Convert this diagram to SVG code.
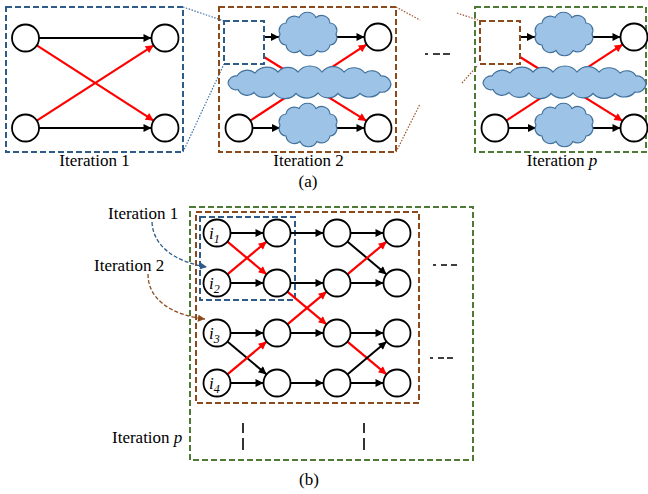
<svg xmlns="http://www.w3.org/2000/svg" width="648" height="494" viewBox="0 0 648 494">
<style>
text{font-family:"Liberation Serif","Times New Roman",serif;font-size:17px;fill:#000}
.it{font-style:italic}
.node{fill:#fff;stroke:#000;stroke-width:1.8}
.blk{stroke:#000;stroke-width:2;fill:none;marker-end:url(#ab)}
.red{stroke:#f00;stroke-width:2.2;fill:none;marker-end:url(#ar)}
.cloud{fill:#9dc3e6;stroke:#41719c;stroke-width:1.2}
.bbox{fill:none;stroke:#2e5b88;stroke-width:2;stroke-dasharray:6 3}
.rbox{fill:none;stroke:#8b4a1c;stroke-width:2;stroke-dasharray:6 3}
.gbox{fill:none;stroke:#4f7a36;stroke-width:2;stroke-dasharray:6 3}
.bdot{stroke:#3f72a8;stroke-width:1.2;stroke-dasharray:1.5 1.5;fill:none}
.rdot{stroke:#a0522d;stroke-width:1.2;stroke-dasharray:1.5 1.5;fill:none}
.dash{stroke:#000;stroke-width:1.6;fill:none}
</style>
<defs>
<marker id="ab" viewBox="0 0 10 10" refX="10" refY="5" markerWidth="9" markerHeight="8" markerUnits="userSpaceOnUse" orient="auto"><path d="M0,0 L10,5 L0,10 z" fill="#000"/></marker>
<marker id="ar" viewBox="0 0 10 10" refX="10" refY="5" markerWidth="9" markerHeight="8" markerUnits="userSpaceOnUse" orient="auto"><path d="M0,0 L10,5 L0,10 z" fill="#f00"/></marker>
<marker id="abl" viewBox="0 0 10 10" refX="10" refY="5" markerWidth="8" markerHeight="7" markerUnits="userSpaceOnUse" orient="auto"><path d="M0,0 L10,5 L0,10 z" fill="#2e5b88"/></marker>
<marker id="abr" viewBox="0 0 10 10" refX="10" refY="5" markerWidth="8" markerHeight="7" markerUnits="userSpaceOnUse" orient="auto"><path d="M0,0 L10,5 L0,10 z" fill="#8b4a1c"/></marker>
<path id="cloudS" class="cloud" d="M28,0 A7.5,7.5 0 0 1 22,11 A8.5,8.5 0 0 1 9,16.5 A9.5,9.5 0 0 1 -8,16.5 A8.5,8.5 0 0 1 -22,11 A7.5,7.5 0 0 1 -28,0 A7.5,7.5 0 0 1 -22,-11 A8.5,8.5 0 0 1 -9,-16.5 A9.5,9.5 0 0 1 8,-16.5 A8.5,8.5 0 0 1 22,-11 A7.5,7.5 0 0 1 28,0 Z"/>
<path id="cloudL" class="cloud" d="M81,1 A9,9 0 0 1 70,9 A14,14 0 0 1 50,10.5 A15,15 0 0 1 28,10.5 A13,13 0 0 1 8,10 A15,15 0 0 1 -14,10.5 A14,14 0 0 1 -36,10 A13,13 0 0 1 -56,9.5 A10,10 0 0 1 -72,6.5 A8,8 0 0 1 -82,0 A8,8 0 0 1 -73,-7 A12,12 0 0 1 -55,-10 A15,15 0 0 1 -32,-11 A13,13 0 0 1 -12,-11 A15,15 0 0 1 12,-11 A14,14 0 0 1 34,-11 A14,14 0 0 1 55,-10 A11,11 0 0 1 71,-7 A9,9 0 0 1 81,1 Z"/>
</defs>

<!-- ===== (a) ===== -->
<g id="zoom-lines">
<path class="bdot" d="M183,7 L224,21 M183,152 L224,64"/>
<path class="rdot" d="M396,7 L420,20 M457,13 L478,20 M396,152 L420,104 M462,83 L478,65"/>
</g>
<g id="a-ellipsis"><path class="dash" d="M425,54 h3 M433,54 h7 M443,54 h7"/></g>

<g id="iter1">
<rect class="bbox" x="6" y="7" width="177" height="145"/>
<g id="a1-connectors">
<line class="blk" x1="39" y1="38" x2="151.5" y2="38"/>
<line class="blk" x1="39" y1="128" x2="151.5" y2="128"/>
<line class="red" x1="36.8" y1="45.3" x2="153.7" y2="120.7"/>
<line class="red" x1="36.8" y1="120.7" x2="153.7" y2="45.3"/>
</g>
<g id="a1-n1"><circle class="node" cx="25.5" cy="38" r="13.5"/></g>
<g id="a1-n2"><circle class="node" cx="165" cy="38" r="13.5"/></g>
<g id="a1-n3"><circle class="node" cx="25.5" cy="128" r="13.5"/></g>
<g id="a1-n4"><circle class="node" cx="165" cy="128" r="13.5"/></g>
<text x="94.5" y="166" text-anchor="middle">Iteration 1</text>
</g>

<g id="iter2">
<rect class="rbox" x="219" y="7" width="177" height="145"/>
<g id="a2-connectors">
<line class="red" x1="264" y1="57" x2="366.5" y2="120.9"/>
<line class="red" x1="250.3" y1="120.6" x2="366.7" y2="44.4"/>
<line class="blk" x1="264" y1="37" x2="279" y2="37"/>
<line class="blk" x1="336" y1="37" x2="364.5" y2="37"/>
<line class="blk" x1="252.5" y1="128" x2="280" y2="128"/>
<line class="blk" x1="336" y1="128" x2="364.5" y2="128"/>
</g>
<g id="a2-prev"><rect class="bbox" x="224" y="21" width="40" height="43" fill="#fff"/></g>
<g id="a2-cloud-top"><use href="#cloudS" x="308" y="34"/></g>
<g id="a2-cloud-mid"><use href="#cloudL" x="310" y="83"/></g>
<g id="a2-cloud-bot"><use href="#cloudS" x="308" y="125"/></g>
<g id="a2-n1"><circle class="node" cx="378" cy="37" r="13.5"/></g>
<g id="a2-n2"><circle class="node" cx="239" cy="128" r="13.5"/></g>
<g id="a2-n3"><circle class="node" cx="378" cy="128" r="13.5"/></g>
<text x="308.5" y="166" text-anchor="middle">Iteration 2</text>
</g>

<g id="iterp">
<rect class="gbox" x="475" y="7" width="171" height="145"/>
<g id="ap-connectors">
<line class="red" x1="520" y1="57" x2="622.5" y2="120.9"/>
<line class="red" x1="506.3" y1="120.6" x2="622.7" y2="44.4"/>
<line class="blk" x1="520" y1="37" x2="535" y2="37"/>
<line class="blk" x1="592" y1="37" x2="620.5" y2="37"/>
<line class="blk" x1="508.5" y1="128" x2="536" y2="128"/>
<line class="blk" x1="592" y1="128" x2="620.5" y2="128"/>
</g>
<g id="ap-prev"><rect class="rbox" x="480" y="21" width="40" height="43" fill="#fff"/></g>
<g id="ap-cloud-top"><use href="#cloudS" x="564" y="34"/></g>
<g id="ap-cloud-mid"><use href="#cloudL" x="565" y="83"/></g>
<g id="ap-cloud-bot"><use href="#cloudS" x="564" y="125"/></g>
<g id="ap-n1"><circle class="node" cx="634" cy="37" r="13.5"/></g>
<g id="ap-n2"><circle class="node" cx="495" cy="128" r="13.5"/></g>
<g id="ap-n3"><circle class="node" cx="634" cy="128" r="13.5"/></g>
<text x="562" y="166" text-anchor="middle">Iteration <tspan class="it">p</tspan></text>
</g>
<text x="308" y="187" text-anchor="middle">(a)</text>

<!-- ===== (b) ===== -->
<g id="b-boxes">
<rect class="gbox" x="190" y="207" width="283" height="253"/>
<rect class="rbox" x="196" y="212" width="223" height="191"/>
<rect class="bbox" x="200" y="217" width="95" height="83"/>
</g>
<g id="b-connectors">
<line class="blk" x1="230.5" y1="233" x2="263.5" y2="233"/>
<line class="blk" x1="230.5" y1="283" x2="263.5" y2="283"/>
<line class="blk" x1="230.5" y1="333" x2="263.5" y2="333"/>
<line class="blk" x1="230.5" y1="383" x2="263.5" y2="383"/>
<line class="blk" x1="290.5" y1="233" x2="323.5" y2="233"/>
<line class="blk" x1="290.5" y1="283" x2="323.5" y2="283"/>
<line class="blk" x1="290.5" y1="333" x2="323.5" y2="333"/>
<line class="blk" x1="290.5" y1="383" x2="323.5" y2="383"/>
<line class="blk" x1="350.5" y1="233" x2="383.5" y2="233"/>
<line class="blk" x1="350.5" y1="283" x2="383.5" y2="283"/>
<line class="blk" x1="350.5" y1="333" x2="383.5" y2="333"/>
<line class="blk" x1="350.5" y1="383" x2="383.5" y2="383"/>
<line class="red" x1="227.4" y1="241.6" x2="266.6" y2="274.4"/>
<line class="red" x1="227.4" y1="274.4" x2="266.6" y2="241.6"/>
<line class="blk" x1="227.4" y1="341.6" x2="266.6" y2="374.4"/>
<line class="red" x1="227.4" y1="374.4" x2="266.6" y2="341.6"/>
<line class="red" x1="287.4" y1="291.6" x2="326.6" y2="324.4"/>
<line class="red" x1="287.4" y1="324.4" x2="326.6" y2="291.6"/>
<line class="blk" x1="347.4" y1="241.6" x2="386.6" y2="274.4"/>
<line class="red" x1="347.4" y1="274.4" x2="386.6" y2="241.6"/>
<line class="red" x1="347.4" y1="341.6" x2="386.6" y2="374.4"/>
<line class="blk" x1="347.4" y1="374.4" x2="386.6" y2="341.6"/>
<path d="M152,222 C153,246 175,262 207,267" fill="none" stroke="#2e5b88" stroke-width="1.3" stroke-dasharray="4 2" marker-end="url(#abl)"/>
<path d="M148,274 C148,300 172,315 205,319" fill="none" stroke="#8b4a1c" stroke-width="1.3" stroke-dasharray="4 2" marker-end="url(#abr)"/>
</g>
<g id="b-i1"><circle class="node" cx="217" cy="233" r="13.5"/><text x="209" y="239" class="it">i<tspan font-size="12" dy="4">1</tspan></text></g>
<g id="b-i2"><circle class="node" cx="217" cy="283" r="13.5"/><text x="209" y="289" class="it">i<tspan font-size="12" dy="4">2</tspan></text></g>
<g id="b-i3"><circle class="node" cx="217" cy="333" r="13.5"/><text x="209" y="339" class="it">i<tspan font-size="12" dy="4">3</tspan></text></g>
<g id="b-i4"><circle class="node" cx="217" cy="383" r="13.5"/><text x="209" y="389" class="it">i<tspan font-size="12" dy="4">4</tspan></text></g>
<g id="b-n12"><circle class="node" cx="277" cy="233" r="13.5"/></g>
<g id="b-n22"><circle class="node" cx="277" cy="283" r="13.5"/></g>
<g id="b-n32"><circle class="node" cx="277" cy="333" r="13.5"/></g>
<g id="b-n42"><circle class="node" cx="277" cy="383" r="13.5"/></g>
<g id="b-n13"><circle class="node" cx="337" cy="233" r="13.5"/></g>
<g id="b-n23"><circle class="node" cx="337" cy="283" r="13.5"/></g>
<g id="b-n33"><circle class="node" cx="337" cy="333" r="13.5"/></g>
<g id="b-n43"><circle class="node" cx="337" cy="383" r="13.5"/></g>
<g id="b-n14"><circle class="node" cx="397" cy="233" r="13.5"/></g>
<g id="b-n24"><circle class="node" cx="397" cy="283" r="13.5"/></g>
<g id="b-n34"><circle class="node" cx="397" cy="333" r="13.5"/></g>
<g id="b-n44"><circle class="node" cx="397" cy="383" r="13.5"/></g>
<g id="b-ellipsis">
<path class="dash" d="M433,265 h3 M441,265 h6 M451,265 h6"/>
<path class="dash" d="M430,358 h3 M438,358 h6 M447,358 h6"/>
<path class="dash" d="M243,423 v10 M243,438 v12 M364,423 v10 M364,438 v12"/>
</g>
<text x="108" y="219">Iteration 1</text>
<text x="94" y="271">Iteration 2</text>
<text x="112" y="443">Iteration <tspan class="it">p</tspan></text>
<text x="309" y="485" text-anchor="middle">(b)</text>
</svg>
